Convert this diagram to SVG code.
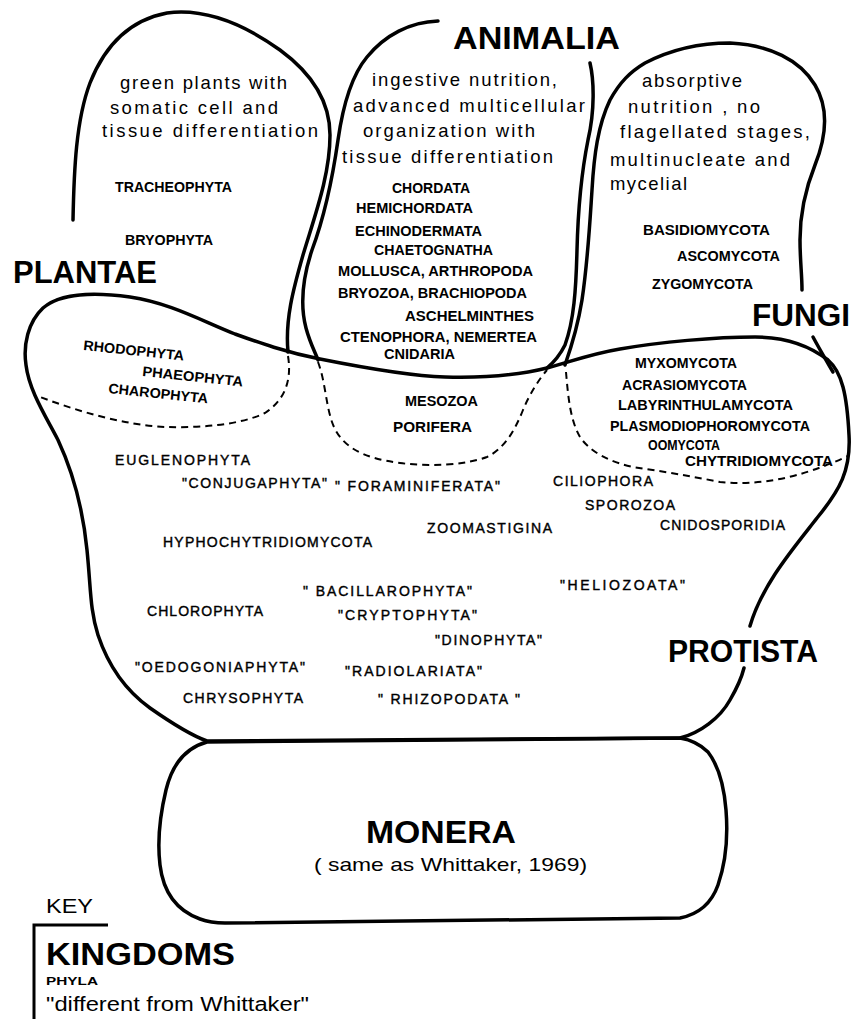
<svg xmlns="http://www.w3.org/2000/svg" width="853" height="1019" viewBox="0 0 853 1019">
<style>
.o{fill:none;stroke:#000;stroke-width:3.5;stroke-linecap:round;stroke-linejoin:round}
.ds{fill:none;stroke:#000;stroke-width:2;stroke-dasharray:7 5}
text{font-family:"Liberation Sans",Arial,sans-serif;fill:#000}
.t{font-size:31px;font-weight:bold}
.d{font-size:18.5px}
.p{font-size:14px;font-weight:bold}
.q{font-size:14px;stroke:#000;stroke-width:0.4}
.c{font-size:19px}
</style>
<rect x="0" y="0" width="853" height="1019" fill="#fff"/>
<g id="monera">
<path class="o" d="M207,742 C185,748 172,765 166,790 C160,815 157,840 160,865 C163,890 175,910 200,919 C208,922 215,923 225,923 L680,918 C700,914 712,902 718,885 C726,862 728,835 726,810 C724,785 718,765 708,752 C700,744 692,740 680,738 Z"/>
<text class="t" x="366" y="843" textLength="150" lengthAdjust="spacingAndGlyphs">MONERA</text>
<text class="c" x="314" y="871" textLength="273" lengthAdjust="spacingAndGlyphs">( same as Whittaker, 1969)</text>
</g>
<g id="protista">
<path class="o" d="M750,626 C762,585 792,550 817,518 C840,490 851,470 849,435 C847,395 842,372 828,360 C805,342 780,337 755,337 C715,337 660,342 620,349 C590,354 570,362 547,368 C515,376 480,378 445,377 C410,376 370,369 320,359 C285,352 260,343 235,334 C200,320 170,303 130,297 C95,292 60,293 43,308 C28,322 23,345 26,365 C29,390 45,415 58,440 C72,470 83,510 87,550 C91,590 90,610 98,635 C108,665 125,690 150,708 C170,722 190,735 207,741 L680,738 C700,733 720,718 730,700 C737,688 741,680 744,668"/>
<text class="t" x="668" y="662" textLength="150" lengthAdjust="spacingAndGlyphs">PROTISTA</text>
<text class="q" x="115" y="465" textLength="135" lengthAdjust="spacing">EUGLENOPHYTA</text>
<text class="q" x="182" y="488" textLength="145" lengthAdjust="spacing">"CONJUGAPHYTA"</text>
<text class="q" x="335" y="491" textLength="165" lengthAdjust="spacing">" FORAMINIFERATA"</text>
<text class="q" x="553" y="486" textLength="100" lengthAdjust="spacing">CILIOPHORA</text>
<text class="q" x="585" y="510" textLength="90" lengthAdjust="spacing">SPOROZOA</text>
<text class="q" x="660" y="530" textLength="125" lengthAdjust="spacing">CNIDOSPORIDIA</text>
<text class="q" x="427" y="533" textLength="125" lengthAdjust="spacing">ZOOMASTIGINA</text>
<text class="q" x="163" y="547" textLength="209" lengthAdjust="spacing">HYPHOCHYTRIDIOMYCOTA</text>
<text class="q" x="303" y="596" textLength="169" lengthAdjust="spacing">" BACILLAROPHYTA"</text>
<text class="q" x="560" y="590" textLength="125" lengthAdjust="spacing">"HELIOZOATA"</text>
<text class="q" x="147" y="616" textLength="116" lengthAdjust="spacing">CHLOROPHYTA</text>
<text class="q" x="338" y="620" textLength="139" lengthAdjust="spacing">"CRYPTOPHYTA"</text>
<text class="q" x="435" y="645" textLength="107" lengthAdjust="spacing">"DINOPHYTA"</text>
<text class="q" x="135" y="672" textLength="170" lengthAdjust="spacing">"OEDOGONIAPHYTA"</text>
<text class="q" x="345" y="676" textLength="137" lengthAdjust="spacing">"RADIOLARIATA"</text>
<text class="q" x="183" y="703" textLength="120" lengthAdjust="spacing">CHRYSOPHYTA</text>
<text class="q" x="378" y="704" textLength="142" lengthAdjust="spacing">" RHIZOPODATA "</text>
</g>
<g id="plantae">
<path class="o" d="M73,220 C74,170 76,120 90,83 C105,45 130,20 167,13 C205,8 245,25 280,50 C310,72 330,100 330,135 C330,175 315,215 303,255 C293,290 285,320 288,352"/>
<path class="ds" d="M288,356 C292,380 285,400 265,413 C240,425 200,428 165,427 C125,425 80,412 40,397"/>
<text class="t" x="13" y="283" textLength="144" lengthAdjust="spacingAndGlyphs">PLANTAE</text>
<text class="d" x="120" y="89" textLength="167" lengthAdjust="spacing">green plants with</text>
<text class="d" x="110" y="114" textLength="168" lengthAdjust="spacing">somatic  cell and</text>
<text class="d" x="102" y="137" textLength="216" lengthAdjust="spacing">tissue differentiation</text>
<text class="p" x="115" y="192" textLength="117" lengthAdjust="spacingAndGlyphs">TRACHEOPHYTA</text>
<text class="p" x="125" y="245" textLength="88" lengthAdjust="spacingAndGlyphs">BRYOPHYTA</text>
<text class="p" transform="translate(83,350) rotate(6)" textLength="101" lengthAdjust="spacingAndGlyphs">RHODOPHYTA</text>
<text class="p" transform="translate(142,376) rotate(6)" textLength="101" lengthAdjust="spacingAndGlyphs">PHAEOPHYTA</text>
<text class="p" transform="translate(108,393) rotate(6)" textLength="100" lengthAdjust="spacingAndGlyphs">CHAROPHYTA</text>
</g>
<g id="animalia">
<path class="o" d="M438,21 C410,22 385,35 367,57 C352,75 343,105 338,140 C333,175 325,215 312,250 C302,280 300,305 306,328 C310,343 315,352 318,360"/>
<path class="o" d="M590,63 C594,80 595,110 588,140 C582,170 578,210 577,250 C576,290 574,320 565,345 C560,355 553,363 547,368"/>
<path class="ds" d="M318,362 C325,380 326,405 332,422 C340,445 360,458 400,463 C430,467 465,465 487,457 C505,448 515,430 523,410 C530,393 540,378 547,370"/>
<text class="t" x="453" y="49" textLength="167" lengthAdjust="spacingAndGlyphs">ANIMALIA</text>
<text class="d" x="372" y="86" textLength="185" lengthAdjust="spacing">ingestive nutrition,</text>
<text class="d" x="353" y="112" textLength="232" lengthAdjust="spacing">advanced multicellular</text>
<text class="d" x="363" y="137" textLength="172" lengthAdjust="spacing">organization  with</text>
<text class="d" x="342" y="163" textLength="211" lengthAdjust="spacing">tissue differentiation</text>
<text class="p" x="392" y="193" textLength="78" lengthAdjust="spacingAndGlyphs">CHORDATA</text>
<text class="p" x="356" y="213" textLength="117" lengthAdjust="spacingAndGlyphs">HEMICHORDATA</text>
<text class="p" x="355" y="236" textLength="127" lengthAdjust="spacingAndGlyphs">ECHINODERMATA</text>
<text class="p" x="374" y="255" textLength="119" lengthAdjust="spacingAndGlyphs">CHAETOGNATHA</text>
<text class="p" x="338" y="276" textLength="195" lengthAdjust="spacingAndGlyphs">MOLLUSCA, ARTHROPODA</text>
<text class="p" x="338" y="298" textLength="189" lengthAdjust="spacingAndGlyphs">BRYOZOA, BRACHIOPODA</text>
<text class="p" x="405" y="321" textLength="129" lengthAdjust="spacingAndGlyphs">ASCHELMINTHES</text>
<text class="p" x="340" y="342" textLength="197" lengthAdjust="spacingAndGlyphs">CTENOPHORA, NEMERTEA</text>
<text class="p" x="384" y="359" textLength="71" lengthAdjust="spacingAndGlyphs">CNIDARIA</text>
<text class="p" x="405" y="406" textLength="73" lengthAdjust="spacingAndGlyphs">MESOZOA</text>
<text class="p" x="393" y="432" textLength="79" lengthAdjust="spacingAndGlyphs">PORIFERA</text>
</g>
<g id="fungi">
<path class="o" d="M565,365 C572,345 578,325 582,300 C588,260 590,220 592,190 C594,155 598,125 610,100 C620,82 630,72 645,63 C670,50 700,43 730,43 C770,45 800,60 815,85 C830,110 825,140 815,165 C805,190 800,215 800,240 C800,260 802,275 802,290"/>
<path class="o" d="M813,337 C820,350 826,360 833,372"/>
<path class="ds" d="M566,372 C568,395 570,420 580,437 C590,452 610,462 633,467 C660,471 690,476 720,482 C760,486 800,478 848,456"/>
<text class="t" x="752" y="326" textLength="98" lengthAdjust="spacingAndGlyphs">FUNGI</text>
<text class="d" x="642" y="87" textLength="100" lengthAdjust="spacing">absorptive</text>
<text class="d" x="628" y="113" textLength="132" lengthAdjust="spacing">nutrition , no</text>
<text class="d" x="620" y="138" textLength="190" lengthAdjust="spacing">flagellated  stages,</text>
<text class="d" x="610" y="166" textLength="180" lengthAdjust="spacing">multinucleate  and</text>
<text class="d" x="610" y="190" textLength="77" lengthAdjust="spacing">mycelial</text>
<text class="p" x="643" y="235" textLength="127" lengthAdjust="spacingAndGlyphs">BASIDIOMYCOTA</text>
<text class="p" x="677" y="261" textLength="103" lengthAdjust="spacingAndGlyphs">ASCOMYCOTA</text>
<text class="p" x="652" y="289" textLength="101" lengthAdjust="spacingAndGlyphs">ZYGOMYCOTA</text>
<text class="p" x="635" y="368" textLength="102" lengthAdjust="spacingAndGlyphs">MYXOMYCOTA</text>
<text class="p" x="622" y="390" textLength="125" lengthAdjust="spacingAndGlyphs">ACRASIOMYCOTA</text>
<text class="p" x="618" y="410" textLength="175" lengthAdjust="spacingAndGlyphs">LABYRINTHULAMYCOTA</text>
<text class="p" x="610" y="431" textLength="200" lengthAdjust="spacingAndGlyphs">PLASMODIOPHOROMYCOTA</text>
<text class="p" x="648" y="450" textLength="72" lengthAdjust="spacingAndGlyphs">OOMYCOTA</text>
<text class="p" x="685" y="466" textLength="148" lengthAdjust="spacingAndGlyphs">CHYTRIDIOMYCOTA</text>
</g>
<g id="key">
<path fill="none" stroke="#000" stroke-width="3" d="M34,1019 L34,925 L108,925"/>
<text x="46" y="913" font-size="20" textLength="47" lengthAdjust="spacingAndGlyphs">KEY</text>
<text class="t" x="46" y="965" textLength="189" lengthAdjust="spacingAndGlyphs">KINGDOMS</text>
<text x="46" y="985" font-size="10" font-weight="bold" textLength="52" lengthAdjust="spacingAndGlyphs">PHYLA</text>
<text x="46" y="1011" font-size="20" textLength="263" lengthAdjust="spacingAndGlyphs">"different from Whittaker"</text>
</g>
<g id="connectors"></g>
</svg>
